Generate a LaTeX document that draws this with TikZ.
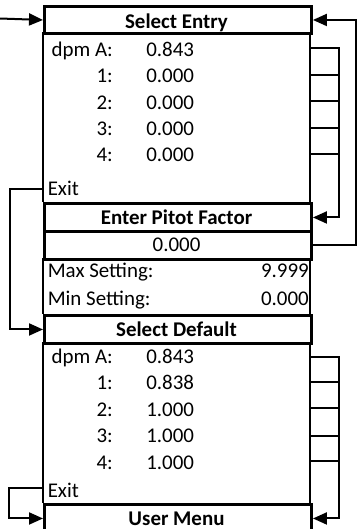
\documentclass[tikz,border=0pt]{standalone}
\usepackage{fontspec}
\setmainfont{Carlito}
\usetikzlibrary{arrows.meta}
\begin{document}
\begin{tikzpicture}[x=0.75pt,y=-0.75pt,
  hdr/.style={draw,line width=2.2pt,minimum width=200.25pt,inner sep=0,anchor=north west},
  side/.style={line width=2pt},
  conn/.style={line width=1.5pt},
  arr/.style={line width=1.5pt,-{Triangle[length=10.5pt,width=9pt]}},
  txt/.style={inner sep=0,font=\fontsize{15.7pt}{18pt}\selectfont},
  btxt/.style={inner sep=0,font=\fontsize{15.7pt}{18pt}\selectfont\bfseries,anchor=base},
  lab/.style={txt,anchor=base east},
  val/.style={txt,anchor=base west}]
\useasboundingbox (0,0) rectangle (358,529);
% boxes
\node[hdr,minimum height=20.25pt] (SE) at (43,5) {};
\node[hdr,minimum height=21pt] (PF) at (43,202) {};
\node[hdr,minimum height=21pt] (VR) at (43,230) {};
\node[hdr,minimum height=21pt] (SD) at (43,314) {};
\node[hdr,minimum height=21pt] (UM) at (43,503) {};
% body sides
\draw[side] (43,32) -- (43,202) (310,32) -- (310,202);
\draw[side] (43,258) -- (43,314) (310,258) -- (310,314);
\draw[side] (43,342) -- (43,503) (310,342) -- (310,503);
% header texts
\node[btxt] (tSE) at (176.5,28) {Select Entry};
\node[btxt] (tPF) at (176.5,224) {Enter Pitot Factor};
\node[txt,anchor=base] (tVR) at (176.5,251.5) {0.000};
\node[btxt] (tSD) at (176.5,336) {Select Default};
\node[btxt] (tUM) at (176.5,525.5) {User Menu};
% upper list
\node[lab] (a0) at (113,56) {dpm A:};
\node[val] (b0) at (146,56) {0.843};
\node[lab] (a1) at (113,82.5) {1:};
\node[val] (b1) at (146,82.5) {0.000};
\node[lab] (a2) at (113,109) {2:};
\node[val] (b2) at (146,109) {0.000};
\node[lab] (a3) at (113,135) {3:};
\node[val] (b3) at (146,135) {0.000};
\node[lab] (a4) at (113,161) {4:};
\node[val] (b4) at (146,161) {0.000};
\node[val] (ex1t) at (47.5,195) {Exit};
% settings
\node[val] (mx) at (47.5,277.7) {Max Setting:};
\node[txt,anchor=base east] (mxv) at (309,277.7) {9.999};
\node[val] (mn) at (47.5,305) {Min Setting:};
\node[txt,anchor=base east] (mnv) at (309,305) {0.000};
% lower list
\node[lab] (c0) at (113,363) {dpm A:};
\node[val] (d0) at (146,363) {0.843};
\node[lab] (c1) at (113,389.5) {1:};
\node[val] (d1) at (146,389.5) {0.838};
\node[lab] (c2) at (113,416) {2:};
\node[val] (d2) at (146,416) {1.000};
\node[lab] (c3) at (113,442.5) {3:};
\node[val] (d3) at (146,442.5) {1.000};
\node[lab] (c4) at (113,469) {4:};
\node[val] (d4) at (146,469) {1.000};
\node[val] (ex2t) at (47.5,497) {Exit};
% connector coordinates
\coordinate (inL) at (0,18.5);
\coordinate (r1) at (310,48);
\coordinate (r2) at (310,75);
\coordinate (r3) at (310,101);
\coordinate (r4) at (310,128);
\coordinate (r5) at (310,154);
\coordinate (s1) at (310,357);
\coordinate (s2) at (310,382);
\coordinate (s3) at (310,408);
\coordinate (s4) at (310,436);
\coordinate (s5) at (310,461);
\coordinate (ex1) at (43,188.5);
\coordinate (ex2) at (43,488);
% connectors
\draw[arr] (inL) -- (SE.west);
\draw[arr] (VR.east) -- ++(43.5,0) |- (SE.east);
\draw[arr] (r1) -- ++(28.5,0) |- (PF.east);
\foreach \c in {r2,r3,r4,r5} \draw[conn] (\c) -- ++(28.5,0);
\draw[arr] (ex1) -- ++(-33,0) |- (SD.west);
\draw[arr] (s1) -- ++(29,0) |- (UM.east);
\foreach \c in {s2,s3,s4,s5} \draw[conn] (\c) -- ++(29,0);
\draw[arr] (ex2) -- ++(-34,0) |- (UM.west);
\end{tikzpicture}
\end{document}
